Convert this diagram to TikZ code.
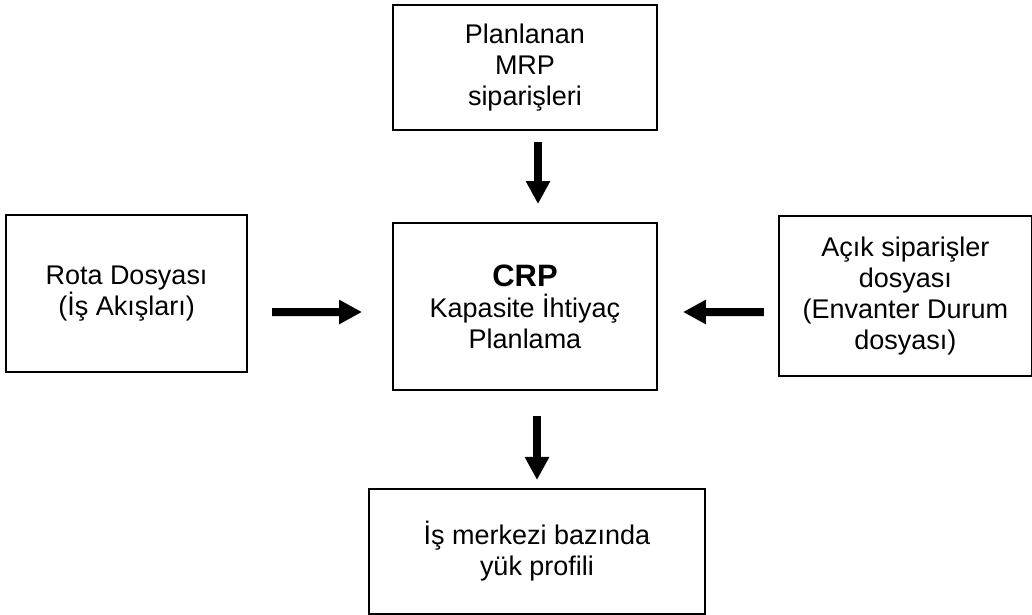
\documentclass[tikz,border=0pt]{standalone}
\usepackage{fontspec}
\setmainfont{Liberation Sans}
\usepackage{xcolor}
\usepackage{tikz}
\usetikzlibrary{arrows.meta, positioning}

\begin{document}
\begin{tikzpicture}[
    block/.style={rectangle, draw, line width=1.4pt, align=center, inner sep=0pt,
      font=\fontsize{19.2}{22}\selectfont},
    arrow/.style={line width=0.2cm, -{Triangle[width=0.575cm, length=0.575cm]}}
]
\useasboundingbox (0,0) rectangle (25.8,-15.35);

\node[block, minimum width=6.6cm, minimum height=4.175cm] (crp) at (13.125,-7.6625)
  {{\fontsize{22}{24}\selectfont\bfseries CRP}\\Kapasite İhtiyaç\\Planlama};
\node[block, minimum width=6.6cm, minimum height=3.125cm, above=2.275cm of crp] (plan)
  {Planlanan\\MRP\\siparişleri};
\node[block, minimum width=6.025cm, minimum height=3.925cm, left=3.6cm of crp, yshift=0.325cm] (rota)
  {Rota Dosyası\\(İş Akışları)};
\node[block, minimum width=6.325cm, minimum height=4cm, right=3cm of crp, yshift=0.2625cm] (acik)
  {Açık siparişler\\dosyası\\(Envanter Durum\\dosyası)};
\node[block, minimum width=8.4cm, minimum height=3.125cm, below=2.425cm of crp, xshift=0.3cm] (prof)
  {İş merkezi bazında\\yük profili};

\draw[arrow, shorten <=0.275cm, shorten >=0.45cm] ([xshift=0.325cm]plan.south) -- ([xshift=0.325cm]crp.north);
\draw[arrow, shorten <=0.625cm, shorten >=0.2cm] ([xshift=0.3cm]crp.south) -- (prof.north);
\draw[arrow, shorten <=0.6cm, shorten >=0.75cm] ([yshift=-0.4625cm]rota.east) -- ([yshift=-0.1375cm]crp.west);
\draw[arrow, shorten <=0.35cm, shorten >=0.625cm] ([yshift=-0.4cm]acik.west) -- ([yshift=-0.1375cm]crp.east);
\end{tikzpicture}
\end{document}
